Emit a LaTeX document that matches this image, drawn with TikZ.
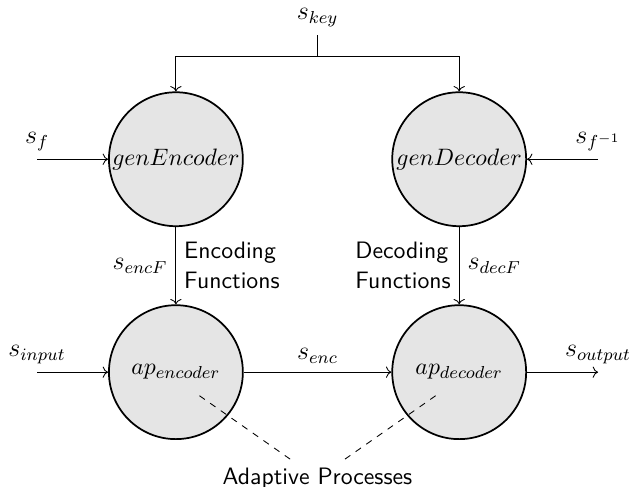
\documentclass[11pt,tikz,border=0pt]{standalone}
\usepackage{amsmath,amssymb}
\usepackage{xcolor}
\usetikzlibrary{positioning, calc, arrows.meta}

\tikzset{
    proc/.style={circle, draw, thick, fill=gray!20, minimum size=2.17cm, inner sep=0pt},
    sig/.style={font=\fontsize{12}{14}\selectfont},
    lbl/.style={font=\sffamily\fontsize{10.95}{13.8}\selectfont, align=left}
}

\begin{document}
\begin{tikzpicture}

    \useasboundingbox (-2.85,-5.30) rectangle (7.39,2.58);

    % Key generators
    \node[proc] (genEnc) at (0,0) {$genEncoder$};
    \node[proc] (genDec) at (4.59,0) {$genDecoder$};

    % Adaptive processes
    \node[proc] (apEnc) at (0,-3.45) {$ap_{encoder}$};
    \node[proc] (apDec) at (4.59,-3.45) {$ap_{decoder}$};

    % Shared key split to both generators
    \coordinate (keyTop) at (2.295,2.01);
    \coordinate (keySplit) at (2.295,1.67);
    \node[above, sig] (sKey) at (keyTop) {$s_{key}$};
    \draw (keyTop) -- (keySplit);
    \draw[->] (keySplit) -| (genEnc.north);
    \draw[->] (keySplit) -| (genDec.north);

    % Function inputs
    \coordinate (fIn) at (-2.25,0);
    \coordinate (fInvIn) at (6.84,0);
    \draw[->] (fIn) node[above, sig] (sF) {$s_f$} -- (genEnc);
    \draw[->] (fInvIn) node[above, sig] (sFinv) {$s_{f^{-1}}$} -- (genDec);

    % Generated functions down to the processes
    \draw[->] (genEnc) -- node[left, sig] (sEncF) {$s_{encF}$}
                          node[right, lbl] (encFun) {Encoding\\Functions} (apEnc);
    \draw[->] (genDec) -- node[right, sig] (sDecF) {$s_{decF}$}
                          node[left, lbl] (decFun) {Decoding\\Functions} (apDec);

    % Signal path
    \coordinate (sigIn) at (-2.25,-3.45);
    \coordinate (sigOut) at (6.84,-3.45);
    \draw[->] (sigIn) node[above, sig] (sIn) {$s_{input}$} -- (apEnc);
    \draw[->] (apEnc) -- node[above, sig] (sEnc) {$s_{enc}$} (apDec);
    \draw[->] (apDec) -- (sigOut) node[above, sig] (sOut) {$s_{output}$};

    % Note pointing into both processes
    \node[lbl] (adapt) at (2.295,-5.17) {Adaptive Processes};
    \coordinate (encPt) at ($(apEnc)+(-45:0.54)$);
    \coordinate (decPt) at ($(apDec)+(-135:0.54)$);
    \draw[dashed] (encPt) -- (adapt);
    \draw[dashed] (decPt) -- (adapt);

\end{tikzpicture}
\end{document}
